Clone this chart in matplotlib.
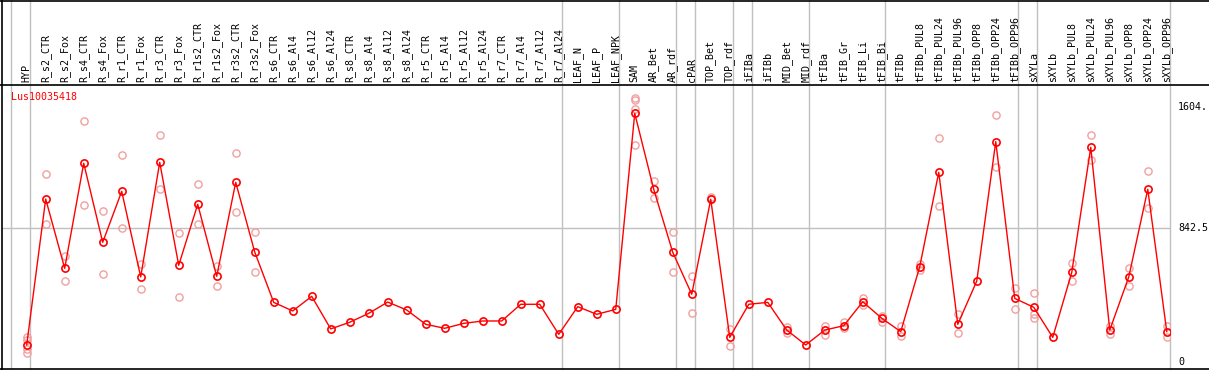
import matplotlib
matplotlib.use('Agg')
import matplotlib.pyplot as plt
import matplotlib.transforms as mtransforms
from matplotlib.lines import Line2D

samples = ['HYP', 'R_s2_CTR', 'R_s2_Fox', 'R_s4_CTR', 'R_s4_Fox', 'R_r1_CTR', 'R_r1_Fox',
           'R_r3_CTR', 'R_r3_Fox', 'R_r1s2_CTR', 'R_r1s2_Fox', 'R_r3s2_CTR', 'R_r3s2_Fox',
           'R_s6_CTR', 'R_s6_Al4', 'R_s6_Al12', 'R_s6_Al24', 'R_s8_CTR', 'R_s8_Al4',
           'R_s8_Al12', 'R_s8_Al24', 'R_r5_CTR', 'R_r5_Al4', 'R_r5_Al12', 'R_r5_Al24',
           'R_r7_CTR', 'R_r7_Al4', 'R_r7_Al12', 'R_r7_Al24', 'LEAF_N', 'LEAF_P', 'LEAF_NPK',
           'SAM', 'AR_Bet', 'AR_rdf', 'cPAR', 'TOP_Bet', 'TOP_rdf', 'iFIBa', 'iFIBb',
           'MID_Bet', 'MID_rdf', 'tFIBa', 'tFIB_Gr', 'tFIB_Li', 'tFIB_Bi', 'tFIBb',
           'tFIBb_PUL8', 'tFIBb_PUL24', 'tFIBb_PUL96', 'tFIBb_OPP8', 'tFIBb_OPP24',
           'tFIBb_OPP96', 'sXYLa', 'sXYLb', 'sXYLb_PUL8', 'sXYLb_PUL24', 'sXYLb_PUL96',
           'sXYLb_OPP8', 'sXYLb_OPP24', 'sXYLb_OPP96']

# mean expression per sample
mean_vals = [107, 1025, 589, 1250, 753, 1073, 535, 1256, 608, 992, 539, 1130, 692,
             375, 321, 413, 208, 250, 306, 377, 327, 237, 212, 243, 258, 258, 363, 363, 174,
             348, 300, 331,
             1564, 1086, 690, 426, 1023, 155, 363, 375, 201, 107,
             201, 228, 379, 275, 191, 600, 1193, 237, 509, 1386, 400,
             344, 155, 564, 1350, 201, 535, 1086, 191]

# replicate values (empty where they sit on the mean)
rep_vals = [[159, 138, 80, 59], [1180, 866], [669, 508], [1514, 986], [948, 553],
            [1300, 841], [616, 457], [1426, 1086], [809, 407], [1118, 866], [606, 476],
            [1312, 941], [819, 564],
            [], [], [], [], [], [], [], [], [], [], [], [], [], [], [], [],
            [], [], [],
            [1658, 1648, 1589, 1363], [1138, 1030], [815, 564], [539, 306], [1040, 1027],
            [208, 99], [], [], [222, 184], [],
            [226, 170], [250, 212], [400, 358], [291, 252], [226, 164], [616, 579],
            [1407, 979], [300, 180], [], [1552, 1225], [463, 335],
            [434, 300, 279], [], [621, 508], [1426, 1270], [226, 176], [589, 476],
            [1199, 970], [226, 159]]

# last sample index of each group
group_ends = [-1, 0, 28, 31, 34, 35, 37, 38, 41, 45, 52, 53, 60]

gene = 'Lus10035418'
right_ticks = [1604, 842.5, 0]
right_text = ['1604.', '842.5', '0']

W, H = 1209, 370
fig = plt.figure(figsize=(W / 100, H / 100), dpi=100)
ax_l, ax_r, ax_b, ax_t = 2, 1170, 369, 85
ax = fig.add_axes([ax_l / W, 1 - ax_b / H, (ax_r - ax_l) / W, (ax_b - ax_t) / H])
ax.set_xlim(-1.3, 60.17)
ax.set_ylim(-44, 1742)
ax.set_xticks([])
ax.set_yticks([])
for s in ax.spines.values():
    s.set_visible(False)

grey = '#c0c0c0'
ext = ax_b / (ax_b - ax_t)
for g in group_ends:
    ax.axvline(g + 0.15, ymin=0, ymax=ext, color=grey, lw=1, clip_on=False, zorder=1)
ax.axhline(842.5, color=grey, lw=1, zorder=1)

xs = list(range(len(samples)))
rx, ry = [], []
for i, reps in enumerate(rep_vals):
    for v in reps:
        rx.append(i)
        ry.append(v)
ax.plot(rx, ry, 'o', ms=5.2, mfc='none', mec='#f0a0a0', mew=1.0, zorder=2)
ax.plot(xs, mean_vals, '-', color='red', lw=1, zorder=3)
ax.plot(xs, mean_vals, 'o', ms=5.2, mfc='none', mec='red', mew=1.2, zorder=4)

trans = mtransforms.blended_transform_factory(ax.transData, ax.transAxes)
for i, name in enumerate(samples):
    ax.text(i, 1 + 2.5 / (ax_b - ax_t), name, transform=trans, rotation=90,
            ha='center', va='bottom', family='DejaVu Sans Mono', fontsize=7.2)

trans_r = mtransforms.blended_transform_factory(ax.transAxes, ax.transData)
for v, t in zip(right_ticks, right_text):
    ax.text(1 + 8 / (ax_r - ax_l), v, t, transform=trans_r, ha='left', va='center',
            family='DejaVu Sans Mono', fontsize=7.2, clip_on=False)

ax.text(9 / (ax_r - ax_l), 1 - 12 / (ax_b - ax_t), gene, transform=ax.transAxes,
        color='red', family='DejaVu Sans Mono', fontsize=7.2, ha='left', va='center')

# black frame lines of the whole panel
for y in [0.5, ax_t, ax_b]:
    fig.add_artist(Line2D([0, 1], [1 - y / H, 1 - y / H], color='black', lw=1.2))
fig.add_artist(Line2D([ax_l / W, ax_l / W], [0, 1], color='black', lw=1.2))

fig.savefig('out.png', dpi=100)
